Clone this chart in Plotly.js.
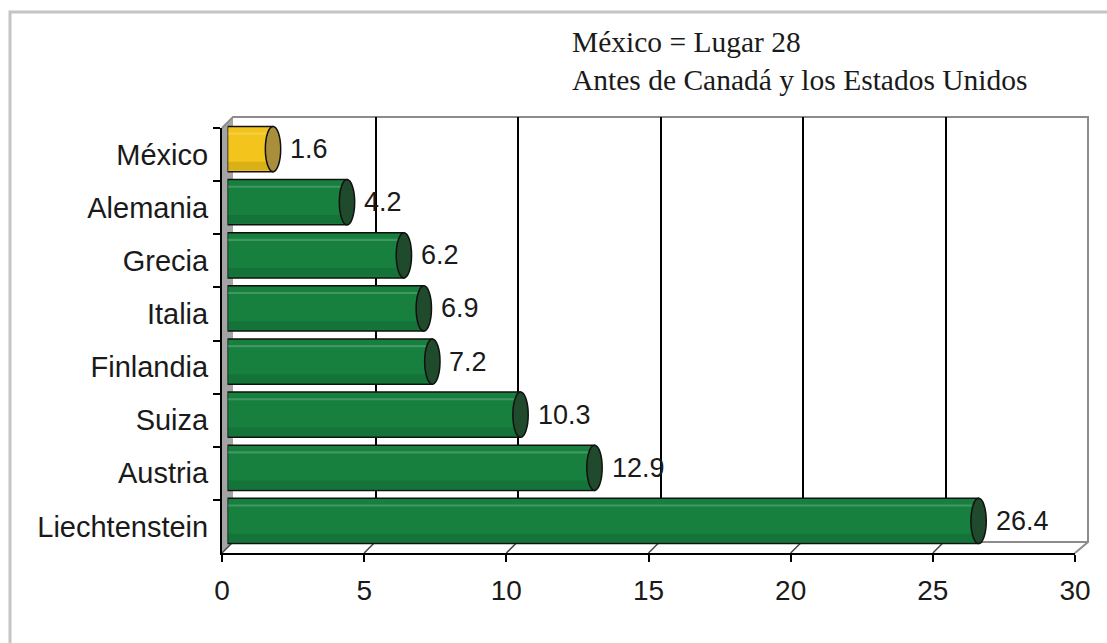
<!DOCTYPE html>
<html>
<head>
<meta charset="utf-8">
<script src="https://cdn.plot.ly/plotly-3.0.1.min.js"></script>
<style>html,body{margin:0;padding:0;background:#fff;}#chart{width:1107px;height:643px;}</style>
</head>
<body>
<div id="chart"></div>
<script>
// ---- data ----
const categories = ['México','Alemania','Grecia','Italia','Finlandia','Suiza','Austria','Liechtenstein'];
const values = [1.6, 4.2, 6.2, 6.9, 7.2, 10.3, 12.9, 26.4];
const highlight = 'México';
const xTicks = [0, 5, 10, 15, 20, 25, 30];
const noteLines = ['México = Lugar 28', 'Antes de Canadá y los Estados Unidos'];

// ---- layout helpers (pixel -> paper) ----
const W = 1107, H = 643, M = {l: 200, r: 10, t: 100, b: 80};
const PW = W - M.l - M.r, PH = H - M.t - M.b;
const px = x => (x - M.l) / PW;
const py = y => (H - M.b - y) / PH;

const SANS = 'Liberation Sans, Arial, sans-serif';
const SERIF = 'Liberation Serif, Times New Roman, serif';
const isHi = categories.map(c => c === highlight);
const bodyColors = isHi.map(h => h ? '#f3c41c' : '#17803f');
const capColors = isHi.map(h => h ? '#a98f3c' : '#1f4a2b');

const traces = [
  // back wall subplot (gridlines)
  {type: 'scatter', x: xTicks, y: xTicks.map(() => 0.5), xaxis: 'x', yaxis: 'y',
   mode: 'markers', marker: {opacity: 0}, hoverinfo: 'skip', showlegend: false},
  // front axes subplot
  {type: 'scatter', x: values, y: categories, xaxis: 'x2', yaxis: 'y2',
   mode: 'markers', marker: {opacity: 0}, hoverinfo: 'skip', showlegend: false},
  // bars (mid depth)
  {type: 'bar', orientation: 'h', x: values, y: categories, xaxis: 'x3', yaxis: 'y3',
   width: 0.85, marker: {color: bodyColors, line: {color: '#111', width: 1.5}},
   hoverinfo: 'x+y', showlegend: false},
  // soft dark lower band
  {type: 'bar', orientation: 'h', x: values, y: categories, xaxis: 'x3', yaxis: 'y3',
   width: 0.16, offset: 0.24, marker: {color: 'rgba(0,0,0,0.10)', line: {width: 0}},
   hoverinfo: 'skip', showlegend: false},
  // light highlight stripe
  {type: 'bar', orientation: 'h', x: values, y: categories, xaxis: 'x3', yaxis: 'y3',
   width: 0.04, offset: -0.31, marker: {color: 'rgba(255,255,255,0.18)', line: {width: 0}},
   hoverinfo: 'skip', showlegend: false}
];

const shapes = [];
// outer border (top and left only visible)
shapes.push({type: 'rect', xref: 'paper', yref: 'paper', x0: px(10), x1: px(1200), y0: py(800), y1: py(12),
  line: {color: '#c4c4c4', width: 3}, fillcolor: 'rgba(0,0,0,0)', layer: 'below'});
// left side wall
const P = (x, y) => px(x) + ',' + py(y);
shapes.push({type: 'path', xref: 'paper', yref: 'paper',
  path: 'M' + P(222, 128) + ' L' + P(233, 117) + ' L' + P(233, 542) + ' L' + P(222, 553) + ' Z',
  fillcolor: '#a4a4a4', line: {width: 0}, layer: 'below'});
// back wall + floor outline
shapes.push({type: 'path', xref: 'paper', yref: 'paper',
  path: 'M' + P(222, 128) + ' L' + P(233, 117) + ' L' + P(1088, 117) + ' L' + P(1088, 542) +
        ' L' + P(1075, 553) + ' M' + P(233, 542) + ' L' + P(1088, 542),
  line: {color: '#8c8c8c', width: 2}, layer: 'below'});
// floor diagonals at ticks
xTicks.forEach(t => {
  shapes.push({type: 'line', xref: 'x2', yref: 'paper', xsizemode: 'pixel', ysizemode: 'pixel',
    xanchor: t, yanchor: py(553), x0: 0, x1: 11, y0: 0, y1: 11,
    line: {color: t === xTicks[xTicks.length - 1] ? '#8c8c8c' : '#444', width: 1.5}, layer: 'below'});
});
// cylinder caps
values.forEach((v, i) => {
  shapes.push({type: 'circle', xref: 'x3', yref: 'y3', x0: v - 0.27, x1: v + 0.27, y0: i - 0.425, y1: i + 0.425,
    fillcolor: capColors[i], line: {color: '#111', width: 1.5}, layer: 'above'});
});

const annotations = values.map((v, i) => ({
  xref: 'x3', yref: 'y3', x: v, y: categories[i], text: String(v), showarrow: false,
  xanchor: 'left', yanchor: 'middle', xshift: 15, font: {family: SANS, size: 27, color: '#1a1a1a'}
}));
annotations.push({xref: 'paper', yref: 'paper', x: px(570), y: py(24), xanchor: 'left', yanchor: 'top',
  align: 'left', showarrow: false, text: noteLines.join('<br>'),
  font: {family: SERIF, size: 29.5, color: '#1a1a1a'}});

const layout = {
  width: W, height: H, margin: M,
  paper_bgcolor: '#fff', plot_bgcolor: 'rgba(0,0,0,0)',
  barmode: 'overlay', showlegend: false,
  font: {family: SANS, size: 27, color: '#1a1a1a'},
  xaxis: {domain: [px(233), px(1088)], anchor: 'y', range: [0, 30], tickvals: xTicks.slice(1, -1),
    showgrid: true, gridcolor: '#000', gridwidth: 2, showticklabels: false, ticks: '', zeroline: false,
    showline: false, fixedrange: true},
  yaxis: {domain: [py(542), py(117)], anchor: 'x', range: [0, 1], showgrid: false, showticklabels: false,
    zeroline: false, showline: false, ticks: '', fixedrange: true},
  xaxis2: {domain: [px(222), px(1075)], anchor: 'y2', range: [0, 30], tickvals: xTicks,
    ticks: 'outside', ticklen: 7, tickwidth: 2, tickcolor: '#000', showline: true, linecolor: '#000',
    linewidth: 2, showgrid: false, zeroline: false, tickfont: {family: SANS, size: 28, color: '#1a1a1a'},
    ticklabelstandoff: 4, fixedrange: true},
  yaxis2: {domain: [py(553), py(128)], anchor: 'x2', type: 'category', categoryorder: 'array',
    categoryarray: categories, range: [categories.length - 0.5, -0.5], ticks: 'outside', tickson: 'boundaries',
    ticklen: 7, tickwidth: 2, tickcolor: '#000', showline: true, linecolor: '#000', linewidth: 2,
    showgrid: false, zeroline: false, tickfont: {family: SANS, size: 29, color: '#1a1a1a'},
    ticklabelstandoff: 6, fixedrange: true},
  xaxis3: {domain: [px(227.5), px(1081)], anchor: 'y3', range: [0, 30], visible: false, fixedrange: true},
  yaxis3: {domain: [py(547.5), py(122.5)], anchor: 'x3', type: 'category', categoryorder: 'array',
    categoryarray: categories, range: [categories.length - 0.5, -0.5], visible: false, fixedrange: true},
  shapes: shapes,
  annotations: annotations
};

Plotly.newPlot('chart', traces, layout, {displayModeBar: false, staticPlot: true});
</script>
</body>
</html>
